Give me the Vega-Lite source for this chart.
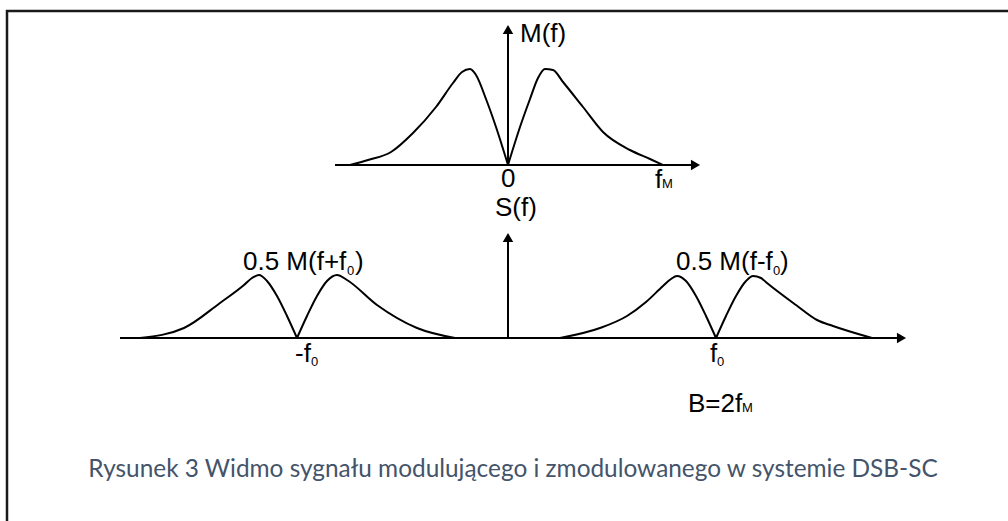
{
  "$schema": "https://vega.github.io/schema/vega-lite/v6.json",
  "width": 1008,
  "height": 521,
  "padding": 0,
  "autosize": {"type": "fit", "contains": "padding"},
  "background": "white",
  "config": {"view": {"stroke": null}},
  "datasets": {
    "curves": [
      {"s": "tL", "i": 0, "x": -158, "y": 173}, {"s": "tL", "i": 1, "x": -140, "y": 178}, {"s": "tL", "i": 2, "x": -117, "y": 186},
      {"s": "tL", "i": 3, "x": -95, "y": 205}, {"s": "tL", "i": 4, "x": -72, "y": 231}, {"s": "tL", "i": 5, "x": -55, "y": 255},
      {"s": "tL", "i": 6, "x": -46, "y": 266}, {"s": "tL", "i": 7, "x": -38, "y": 269}, {"s": "tL", "i": 8, "x": -32, "y": 263},
      {"s": "tL", "i": 9, "x": -22, "y": 239}, {"s": "tL", "i": 10, "x": -12, "y": 211}, {"s": "tL", "i": 11, "x": 0, "y": 173},
      {"s": "tR", "i": 0, "x": 0, "y": 173}, {"s": "tR", "i": 1, "x": 12, "y": 211}, {"s": "tR", "i": 2, "x": 22, "y": 239},
      {"s": "tR", "i": 3, "x": 30, "y": 260}, {"s": "tR", "i": 4, "x": 37, "y": 269}, {"s": "tR", "i": 5, "x": 45, "y": 268},
      {"s": "tR", "i": 6, "x": 55, "y": 256}, {"s": "tR", "i": 7, "x": 75, "y": 231}, {"s": "tR", "i": 8, "x": 95, "y": 206},
      {"s": "tR", "i": 9, "x": 122, "y": 188}, {"s": "tR", "i": 10, "x": 142, "y": 179}, {"s": "tR", "i": 11, "x": 155, "y": 173},
      {"s": "lL", "i": 0, "x": -368, "y": 0}, {"s": "lL", "i": 1, "x": -324, "y": 10}, {"s": "lL", "i": 2, "x": -288, "y": 35},
      {"s": "lL", "i": 3, "x": -264, "y": 53}, {"s": "lL", "i": 4, "x": -256, "y": 60}, {"s": "lL", "i": 5, "x": -249, "y": 63},
      {"s": "lL", "i": 6, "x": -241, "y": 57}, {"s": "lL", "i": 7, "x": -231, "y": 42}, {"s": "lL", "i": 8, "x": -221, "y": 22},
      {"s": "lL", "i": 9, "x": -211, "y": 0},
      {"s": "lR", "i": 0, "x": -211, "y": 0}, {"s": "lR", "i": 1, "x": -201, "y": 22}, {"s": "lR", "i": 2, "x": -191, "y": 42},
      {"s": "lR", "i": 3, "x": -181, "y": 57}, {"s": "lR", "i": 4, "x": -171, "y": 63}, {"s": "lR", "i": 5, "x": -161, "y": 58},
      {"s": "lR", "i": 6, "x": -131, "y": 33}, {"s": "lR", "i": 7, "x": -91, "y": 10}, {"s": "lR", "i": 8, "x": -53, "y": 0},
      {"s": "rL", "i": 0, "x": 52, "y": 0}, {"s": "rL", "i": 1, "x": 92, "y": 10}, {"s": "rL", "i": 2, "x": 119, "y": 22},
      {"s": "rL", "i": 3, "x": 138, "y": 36}, {"s": "rL", "i": 4, "x": 155, "y": 52}, {"s": "rL", "i": 5, "x": 163, "y": 59},
      {"s": "rL", "i": 6, "x": 169, "y": 62}, {"s": "rL", "i": 7, "x": 178, "y": 57}, {"s": "rL", "i": 8, "x": 188, "y": 42},
      {"s": "rL", "i": 9, "x": 198, "y": 22}, {"s": "rL", "i": 10, "x": 208, "y": 0},
      {"s": "rR", "i": 0, "x": 208, "y": 0}, {"s": "rR", "i": 1, "x": 218, "y": 22}, {"s": "rR", "i": 2, "x": 228, "y": 42},
      {"s": "rR", "i": 3, "x": 238, "y": 57}, {"s": "rR", "i": 4, "x": 245, "y": 62}, {"s": "rR", "i": 5, "x": 253, "y": 60},
      {"s": "rR", "i": 6, "x": 259, "y": 55}, {"s": "rR", "i": 7, "x": 288, "y": 33}, {"s": "rR", "i": 8, "x": 309, "y": 18},
      {"s": "rR", "i": 9, "x": 325, "y": 12}, {"s": "rR", "i": 10, "x": 364, "y": 0}
    ],
    "axes": [
      {"s": "ta", "i": 0, "x": -173, "y": 173}, {"s": "ta", "i": 1, "x": 188, "y": 173},
      {"s": "tv", "i": 0, "x": 0, "y": 173}, {"s": "tv", "i": 1, "x": 0, "y": 305},
      {"s": "ba", "i": 0, "x": -388, "y": 0}, {"s": "ba", "i": 1, "x": 394, "y": 0},
      {"s": "bv", "i": 0, "x": 0, "y": 0}, {"s": "bv", "i": 1, "x": 0, "y": 97}
    ],
    "frame": [
      {"s": "fr", "i": 0, "x": -501, "y": -200},
      {"s": "fr", "i": 1, "x": -501, "y": 327},
      {"s": "fr", "i": 2, "x": 520, "y": 327}
    ],
    "arrowUp": [{"x": 0, "y": 308.5}, {"x": 0, "y": 100.5}],
    "arrowRight": [{"x": 187.5, "y": 173}, {"x": 393.5, "y": 0}],
    "labels": [
      {"x": 12, "y": 296, "t": "M(f)"},
      {"x": -7, "y": 151, "t": "0"},
      {"x": 147, "y": 150, "t": "f"},
      {"x": -13, "y": 122, "t": "S(f)"},
      {"x": -265, "y": 68, "t": "0.5 M(f+f"},
      {"x": -153, "y": 68, "t": ")"},
      {"x": -213, "y": -24, "t": "-f"},
      {"x": 168, "y": 68, "t": "0.5 M(f-f"},
      {"x": 272, "y": 68, "t": ")"},
      {"x": 202, "y": -24, "t": "f"},
      {"x": 180, "y": -74, "t": "B=2f"}
    ],
    "subs": [
      {"x": 154, "y": 150, "t": "M"},
      {"x": -161, "y": 63, "t": "0"},
      {"x": -197, "y": -28, "t": "0"},
      {"x": 265, "y": 63, "t": "0"},
      {"x": 209, "y": -28, "t": "0"},
      {"x": 234, "y": -74, "t": "M"}
    ],
    "caption": [
      {"x": 5, "y": -139, "t": "Rysunek 3 Widmo sygnału modulującego i zmodulowanego w systemie DSB-SC"}
    ]
  },
  "encoding": {
    "x": {"field": "x", "type": "quantitative", "scale": {"domain": [-508, 500], "nice": false, "zero": false}, "axis": null},
    "y": {"field": "y", "type": "quantitative", "scale": {"domain": [-183, 338], "nice": false, "zero": false}, "axis": null}
  },
  "layer": [
    {
      "data": {"name": "frame"},
      "mark": {"type": "line", "color": "#1a1a1a", "strokeWidth": 2.5, "clip": true},
      "encoding": {"detail": {"field": "s"}, "order": {"field": "i"}}
    },
    {
      "data": {"name": "axes"},
      "mark": {"type": "line", "color": "black", "strokeWidth": 2},
      "encoding": {"detail": {"field": "s"}, "order": {"field": "i"}}
    },
    {
      "data": {"name": "curves"},
      "mark": {"type": "line", "color": "black", "strokeWidth": 2, "interpolate": "monotone"},
      "encoding": {"detail": {"field": "s"}, "order": {"field": "i"}}
    },
    {
      "data": {"name": "arrowUp"},
      "mark": {"type": "point", "shape": "triangle-up", "filled": true, "color": "black", "size": 110, "opacity": 1}
    },
    {
      "data": {"name": "arrowRight"},
      "mark": {"type": "point", "shape": "triangle-right", "filled": true, "color": "black", "size": 110, "opacity": 1}
    },
    {
      "data": {"name": "labels"},
      "mark": {"type": "text", "align": "left", "baseline": "alphabetic", "font": "Liberation Sans", "fontSize": 26, "color": "black"},
      "encoding": {"text": {"field": "t"}}
    },
    {
      "data": {"name": "subs"},
      "mark": {"type": "text", "align": "left", "baseline": "alphabetic", "font": "Liberation Sans", "fontSize": 13, "color": "black"},
      "encoding": {"text": {"field": "t"}}
    },
    {
      "data": {"name": "caption"},
      "mark": {"type": "text", "align": "center", "baseline": "alphabetic", "font": "Lato", "fontSize": 24.4, "color": "#44546A"},
      "encoding": {"text": {"field": "t"}}
    }
  ]
}
